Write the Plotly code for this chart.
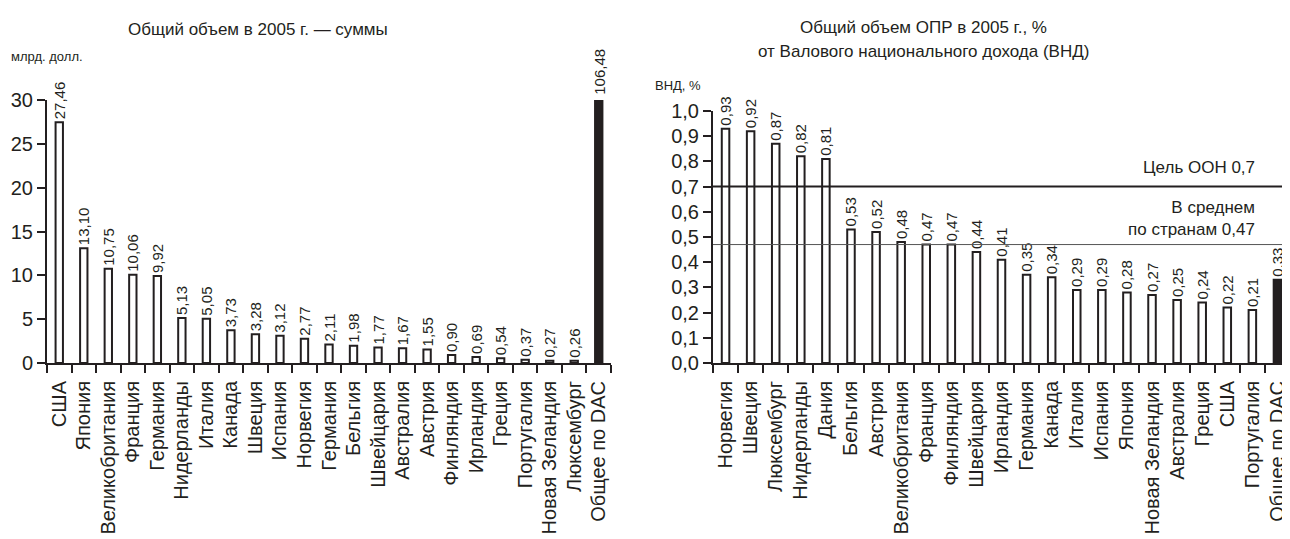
import plotly.graph_objects as go

# ---------------- data ----------------
left_categories = ["США", "Япония", "Великобритания", "Франция", "Германия", "Нидерланды",
                   "Италия", "Канада", "Швеция", "Испания", "Норвегия", "Германия",
                   "Бельгия", "Швейцария", "Австралия", "Австрия", "Финляндия", "Ирландия",
                   "Греция", "Португалия", "Новая Зеландия", "Люксембург", "Общее по DAC"]
left_values = [27.46, 13.10, 10.75, 10.06, 9.92, 5.13, 5.05, 3.73, 3.28, 3.12, 2.77, 2.11,
               1.98, 1.77, 1.67, 1.55, 0.90, 0.69, 0.54, 0.37, 0.27, 0.26, 106.48]

right_categories = ["Норвегия", "Швеция", "Люксембург", "Нидерланды", "Дания", "Бельгия",
                    "Австрия", "Великобритания", "Франция", "Финляндия", "Швейцария",
                    "Ирландия", "Германия", "Канада", "Италия", "Испания", "Япония",
                    "Новая Зеландия", "Австралия", "Греция", "США", "Португалия", "Общее по DAC"]
right_values = [0.93, 0.92, 0.87, 0.82, 0.81, 0.53, 0.52, 0.48, 0.47, 0.47, 0.44, 0.41,
                0.35, 0.34, 0.29, 0.29, 0.28, 0.27, 0.25, 0.24, 0.22, 0.21, 0.33]

un_target = 0.7
dac_average = 0.47
left_y_max = 30

# ---------------- figure ----------------
# the page body has an 8px default margin, so the figure is drawn 8px in from the corner
OFF = 8
W, H = 1290 - OFF, 539 - OFF
INK = "#231f20"
FONT = "Liberation Sans, Arial, sans-serif"


def fmt(v):
    return f"{v:.2f}".replace(".", ",")


def px_x(p):
    return (p - OFF) / W


def px_y(p):
    return 1 - (p - OFF) / H


li = list(range(len(left_categories)))
ri = list(range(len(right_categories)))

fig = go.Figure()

bar_common = dict(width=0.3, textposition="outside", textangle=-90,
                  textfont=dict(size=15, color=INK, family=FONT),
                  constraintext="none", showlegend=False, hoverinfo="x+y")

# left: countries
fig.add_trace(go.Bar(x=li[:-1], y=left_values[:-1], text=[fmt(v) for v in left_values[:-1]],
                     marker=dict(color="white", line=dict(color=INK, width=2)),
                     cliponaxis=False, xaxis="x", yaxis="y", **bar_common))
# left: DAC total (clipped at axis top)
fig.add_trace(go.Bar(x=li[-1:], y=left_values[-1:],
                     marker=dict(color=INK, line=dict(color=INK, width=2)),
                     cliponaxis=True, xaxis="x", yaxis="y", width=0.3, showlegend=False))

# right
fig.add_trace(go.Bar(x=ri, y=right_values, text=[fmt(v) for v in right_values],
                     marker=dict(color=["white"] * (len(ri) - 1) + [INK],
                                 line=dict(color=INK, width=2)),
                     cliponaxis=False, xaxis="x2", yaxis="y2", **bar_common))

y_bottom = px_y(363)

xcommon = dict(range=[-0.5, len(li) - 0.5], tickangle=-90, ticks="", showline=True,
               linecolor=INK, linewidth=2, showgrid=False, zeroline=False, automargin=False,
               tickfont=dict(size=20, color=INK, family=FONT), ticklabelstandoff=8,
               minor=dict(ticks="outside", tick0=0.5, dtick=1, ticklen=8, tickwidth=2,
                          tickcolor=INK, showgrid=False),
               fixedrange=True)
ycommon = dict(ticks="outside", ticklen=8, tickwidth=2, tickcolor=INK, showline=True,
               linecolor=INK, linewidth=2, showgrid=False, zeroline=False, automargin=False,
               tickfont=dict(size=20, color=INK, family=FONT), fixedrange=True)

fig.update_layout(
    template="none",
    width=W, height=H,
    margin=dict(l=0, r=0, t=0, b=0, autoexpand=False),
    paper_bgcolor="white", plot_bgcolor="white",
    separators=", ",
    showlegend=False,
    font=dict(family=FONT, color=INK),
    xaxis=dict(domain=[px_x(47), px_x(611)], tickvals=li, ticktext=left_categories,
               anchor="y", **xcommon),
    yaxis=dict(domain=[y_bottom, px_y(100)], range=[0, left_y_max], dtick=5,
               anchor="x", **ycommon),
    xaxis2=dict(domain=[px_x(713), 1.0], tickvals=ri, ticktext=right_categories,
                anchor="y2", **xcommon),
    yaxis2=dict(domain=[y_bottom, px_y(111)], range=[0, 1.0], dtick=0.1, tickformat=".1f",
                anchor="x2", **ycommon),
    shapes=[
        dict(type="line", xref="x2 domain", yref="y2", x0=0, x1=1,
             y0=un_target, y1=un_target, line=dict(color=INK, width=2)),
        dict(type="line", xref="x2 domain", yref="y2", x0=0, x1=1,
             y0=dac_average, y1=dac_average, line=dict(color="#555555", width=1)),
    ],
    annotations=[
        dict(text="Общий объем в 2005 г. — суммы", xref="paper", yref="paper",
             x=px_x(258), y=px_y(30), xanchor="center", yanchor="middle",
             showarrow=False, font=dict(size=17)),
        dict(text="млрд. долл.", xref="paper", yref="paper",
             x=px_x(9), y=px_y(57), xanchor="left", yanchor="middle",
             showarrow=False, font=dict(size=13)),
        dict(text="Общий объем ОПР в 2005 г., %",
             xref="paper", yref="paper", x=px_x(923), y=px_y(27), xanchor="center",
             yanchor="middle", showarrow=False, font=dict(size=17)),
        dict(text="от Валового национального дохода (ВНД)",
             xref="paper", yref="paper", x=px_x(923), y=px_y(52), xanchor="center",
             yanchor="middle", showarrow=False, font=dict(size=17)),
        dict(text="ВНД, %", xref="paper", yref="paper",
             x=px_x(653), y=px_y(86), xanchor="left", yanchor="middle",
             showarrow=False, font=dict(size=13)),
        dict(text=fmt(left_values[-1]), xref="x", yref="y", x=li[-1], y=left_y_max,
             xanchor="center", yanchor="bottom", textangle=-90, yshift=3,
             showarrow=False, font=dict(size=15)),
        dict(text=f"Цель ООН {un_target:.1f}".replace(".", ","), xref="x2 domain", yref="y2",
             x=0.943, y=un_target, xanchor="right", yanchor="bottom", yshift=8,
             showarrow=False, font=dict(size=17)),
        dict(text="В среднем<br>по странам " + fmt(dac_average), xref="x2 domain", yref="y2",
             x=0.943, y=dac_average, xanchor="right", yanchor="bottom", yshift=4,
             align="right", showarrow=False, font=dict(size=17)),
    ],
)

fig.write_html("out.html")
